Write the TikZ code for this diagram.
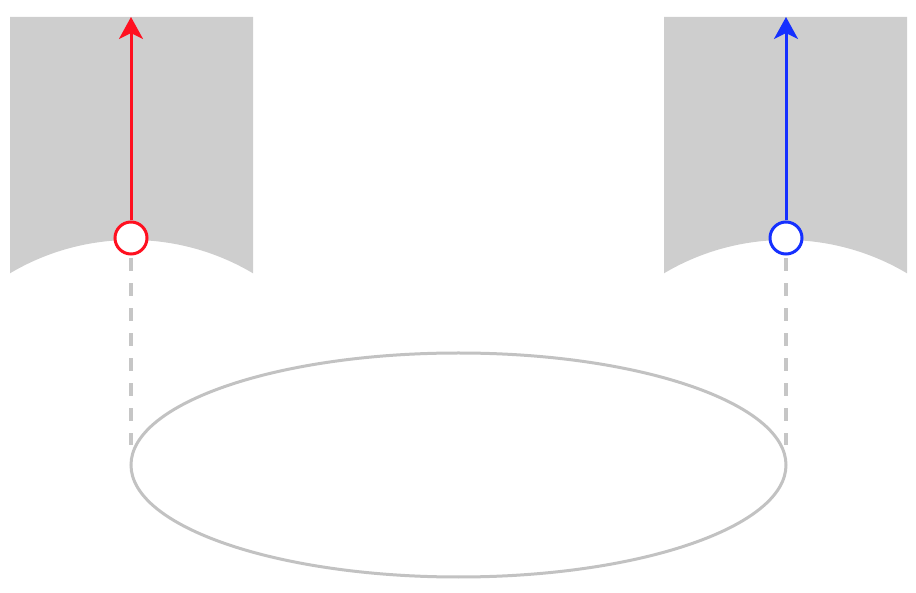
\documentclass[tikz,border=0pt]{standalone}
\usetikzlibrary{arrows.meta}
\definecolor{shade}{HTML}{CECECE}
\definecolor{ringgray}{HTML}{C2C2C2}
\definecolor{dashgray}{HTML}{C6C6C6}
\definecolor{myred}{HTML}{FF1020}
\definecolor{myblue}{HTML}{1530FF}
\tikzset{
  pin/.style={circle, draw=#1, line width=3pt, fill=white, minimum size=32pt, inner sep=0pt},
  vec/.style={draw=#1, line width=3pt, -{Stealth[length=22pt, width=24pt, inset=6pt]}},
  drop/.style={draw=dashgray, line width=3.2pt, dash pattern=on 13pt off 12pt},
  panel/.style={fill=shade, draw=none},
}
\begin{document}
\begin{tikzpicture}[x=1pt,y=1pt]
\useasboundingbox (0,0) rectangle (916,592);
% gray panels with curved bottom
\path[panel] (10,318.7) -- (10,575) -- (253,575) -- (253,318.7)
  arc[start angle=59.3, end angle=120.7, radius=238] -- cycle;
\path[panel] (664,318.7) -- (664,575) -- (907,575) -- (907,318.7)
  arc[start angle=59.3, end angle=120.7, radius=238] -- cycle;
% ellipse
\draw[draw=ringgray, line width=3pt] (458.5,127) ellipse[x radius=327.5, y radius=112];
% coordinates
\coordinate (lt) at (131,575);
\coordinate (rt) at (786,575);
\coordinate (lb) at (131,147);
\coordinate (rb) at (786,147);
% nodes
\node[pin=myred] (lp) at (131,354) {};
\node[pin=myblue] (rp) at (786,354) {};
% connectors
\draw[drop] ([yshift=-3pt]lp.south) -- (lb);
\draw[drop] ([yshift=-3pt]rp.south) -- (rb);
\draw[vec=myred] (lp.north) -- (lt);
\draw[vec=myblue] (rp.north) -- (rt);
\end{tikzpicture}
\end{document}
